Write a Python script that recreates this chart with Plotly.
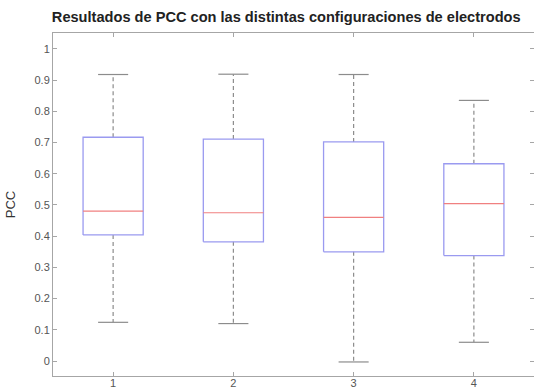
import plotly.graph_objects as go

categories = [1, 2, 3, 4]
upper_whisker = [0.918, 0.919, 0.918, 0.835]
q3 = [0.717, 0.711, 0.702, 0.632]
median = [0.480, 0.475, 0.460, 0.504]
q1 = [0.404, 0.382, 0.350, 0.338]
lower_whisker = [0.124, 0.120, -0.003, 0.060]
y_ticks = [0, 0.1, 0.2, 0.3, 0.4, 0.5, 0.6, 0.7, 0.8, 0.9, 1]
y_tick_labels = ["0", "0.1", "0.2", "0.3", "0.4", "0.5", "0.6", "0.7", "0.8", "0.9", "1"]

box_half = 0.25
cap_half = 0.125

bx, by = [], []
mx, my = [], []
wx, wy = [], []
cx, cy = [], []
for c, uw, t, m, b, lw in zip(categories, upper_whisker, q3, median, q1, lower_whisker):
    bx += [c - box_half, c + box_half, c + box_half, c - box_half, c - box_half, None]
    by += [b, b, t, t, b, None]
    mx += [c - box_half, c + box_half, None]
    my += [m, m, None]
    wx += [c, c, None, c, c, None]
    wy += [t, uw, None, b, lw, None]
    cx += [c - cap_half, c + cap_half, None, c - cap_half, c + cap_half, None]
    cy += [uw, uw, None, lw, lw, None]

fig = go.Figure()
fig.add_trace(go.Scatter(x=wx, y=wy, mode="lines", line=dict(color="#8c8c8c", width=1.2, dash="4px,3px"),
                         hoverinfo="skip", showlegend=False))
fig.add_trace(go.Scatter(x=cx, y=cy, mode="lines", line=dict(color="#8c8c8c", width=1.2),
                         hoverinfo="skip", showlegend=False))
fig.add_trace(go.Scatter(x=bx, y=by, mode="lines", line=dict(color="#9a9af0", width=1.3),
                         showlegend=False))
fig.add_trace(go.Scatter(x=mx, y=my, mode="lines", line=dict(color="#f08080", width=1.2),
                         showlegend=False))

axis_common = dict(showline=True, linecolor="#a6a6a6", linewidth=1, mirror="ticks",
                   ticks="inside", ticklen=4, tickcolor="#a6a6a6", showgrid=False, zeroline=False,
                   automargin=False,
                   tickfont=dict(family="Liberation Sans, Arial, sans-serif", size=11, color="#555555"))

fig.update_layout(
    width=534, height=390,
    margin=dict(l=53, r=0, t=33, b=14),
    paper_bgcolor="white", plot_bgcolor="white",
    title=dict(text="<b>Resultados de PCC con las distintas configuraciones de electrodos</b>",
               x=0.536, xanchor="center", y=0.956, yanchor="middle",
               font=dict(family="Liberation Sans, Arial, sans-serif", size=14.6, color="#222222")),
    xaxis=dict(range=[0.5, 4.5], tickvals=categories, ticktext=[str(c) for c in categories],
               ticklabelstandoff=-3, **axis_common),
    yaxis=dict(range=[-0.048, 1.051], tickvals=y_ticks, ticktext=y_tick_labels,
               ticklabelstandoff=0,
               title=dict(text="PCC", standoff=15,
                          font=dict(family="Liberation Sans, Arial, sans-serif", size=13, color="#333333")),
               **axis_common),
)

fig.write_html("out.html", config={"displayModeBar": False},
               post_script="document.body.style.margin='0';")
